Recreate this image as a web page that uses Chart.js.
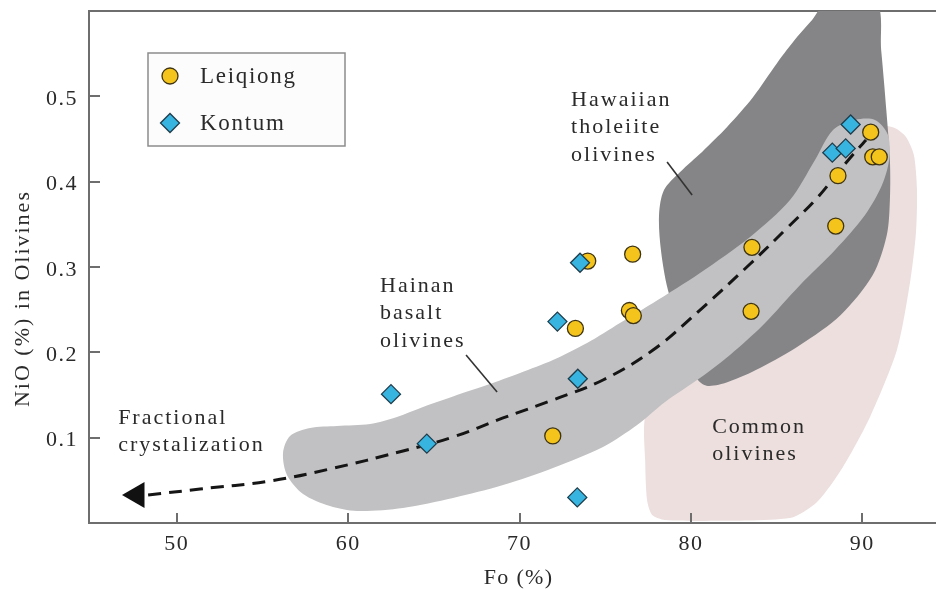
<!DOCTYPE html>
<html>
<head>
<meta charset="utf-8">
<script src="https://cdn.jsdelivr.net/npm/chart.js@4/dist/chart.umd.min.js"></script>
<style>
  html, body { margin: 0; padding: 0; background: #ffffff; }
  #c { display: block; }
</style>
</head>
<body>
<canvas id="c" width="936" height="590" style="width:936px;height:590px"></canvas>
<script>
// ---- data -------------------------------------------------------------
const xTicks = [50, 60, 70, 80, 90];
const yTicks = [0.1, 0.2, 0.3, 0.4, 0.5];

const leiqiongFo  = [73.98, 76.60, 76.41, 76.64, 73.26, 71.94, 90.49, 90.61, 90.99, 88.58, 88.45, 83.56, 83.51];
const leiqiongNiO = [0.307, 0.315, 0.249, 0.243, 0.228, 0.102, 0.458, 0.429, 0.429, 0.407, 0.348, 0.323, 0.248];

const kontumFo  = [73.53, 72.21, 73.40, 62.50, 64.59, 73.37, 89.32, 88.25, 89.03];
const kontumNiO = [0.305, 0.236, 0.169, 0.151, 0.093, 0.030, 0.467, 0.434, 0.439];

// fractional crystallization trend (dashed) and its arrow head
const trendFo  = [48.33, 51.36, 55.44, 58.94, 63.20, 66.12, 69.04, 71.95, 74.87, 77.79, 80.53, 83.45, 85.61, 87.36, 88.70, 89.69, 90.22];
const trendNiO = [0.0328, 0.0398, 0.0492, 0.0633, 0.0844, 0.1008, 0.1231, 0.1442, 0.1676, 0.2027, 0.2496, 0.3035, 0.3457, 0.3809, 0.4137, 0.4371, 0.4488];
const arrowFo  = [47.68];
const arrowNiO = [0.0328];

// compositional fields (closed outlines)
const hainanFo  = [66.35, 68.10, 70.03, 71.95, 73.94, 75.86, 77.79, 80.53, 83.45, 85.78, 87.24, 88.29, 89.57, 90.74, 91.50, 91.56, 91.15, 90.16, 88.41, 86.37, 84.21, 82.28, 80.53, 78.49, 76.86, 74.87, 71.95, 69.04, 66.12, 63.20, 60.52, 58.94, 57.37, 56.43, 56.20, 56.61, 57.78, 59.35, 61.28, 62.85, 64.37, 66.35];
const hainanNiO = [0.1500, 0.1617, 0.1758, 0.1910, 0.2109, 0.2344, 0.2578, 0.2930, 0.3352, 0.3785, 0.4254, 0.4606, 0.4723, 0.4723, 0.4547, 0.4254, 0.3961, 0.3610, 0.3199, 0.2789, 0.2320, 0.1969, 0.1699, 0.1418, 0.1148, 0.0891, 0.0645, 0.0445, 0.0293, 0.0176, 0.0141, 0.0199, 0.0340, 0.0563, 0.0820, 0.1020, 0.1113, 0.1137, 0.1160, 0.1242, 0.1359, 0.1500];

const hawaiiFo  = [80.65, 82.11, 83.63, 85.03, 86.19, 87.07, 87.92, 90.80, 91.10, 91.40, 91.61, 91.61, 91.43, 90.61, 88.74, 86.37, 84.03, 82.16, 80.99, 80.41, 79.94, 78.66, 78.25, 78.14, 78.43, 79.37, 80.65];
const hawaiiNiO = [0.4348, 0.4641, 0.4993, 0.5391, 0.5695, 0.5895, 0.610, 0.610, 0.5544, 0.4841, 0.4254, 0.3785, 0.3375, 0.2906, 0.2438, 0.2086, 0.1816, 0.1652, 0.1606, 0.1676, 0.1910, 0.2731, 0.3199, 0.3610, 0.3902, 0.4113, 0.4348];

const commonFo  = [80.53, 85.78, 87.36, 88.87, 90.45, 92.02, 92.78, 93.13, 93.19, 93.01, 92.55, 91.90, 91.15, 89.87, 84.54, 80.53, 78.20, 77.33, 77.33, 77.44, 77.74, 78.49, 80.53];
const commonNiO = [0.0023, 0.0059, 0.0246, 0.0656, 0.1242, 0.2027, 0.2813, 0.3399, 0.3902, 0.4313, 0.4524, 0.4629, 0.4653, 0.4488, 0.2613, 0.1910, 0.1442, 0.1242, 0.0738, 0.0270, 0.0094, 0.0035, 0.0023];

// leader lines from field names to fields
const hawaiiLeaderFo  = [78.61, 80.07];
const hawaiiLeaderNiO = [0.4231, 0.3844];
const hainanLeaderFo  = [66.88, 68.69];
const hainanLeaderNiO = [0.1969, 0.1535];

// field names, anchored at their first line's left/middle
const fieldNames = [
  { lines: ['Hawaiian', 'tholeiite', 'olivines'], fo: 73.01, nio: 0.4958 },
  { lines: ['Hainan', 'basalt', 'olivines'],      fo: 61.86, nio: 0.2777 },
  { lines: ['Fractional', 'crystalization'],      fo: 46.58, nio: 0.1230 },
  { lines: ['Common', 'olivines'],                fo: 81.24, nio: 0.1125 }
];

// ---- helpers ------------------------------------------------------------
const pts = (xs, ys) => xs.map((v, i) => ({ x: v, y: ys[i] }));
const SERIF = '"Liberation Serif", "Times New Roman", serif';
const TEXT = '#2a2a2a';
const AXIS = '#6e6e6e';
const X_MIN = 44.88, X_MAX = 94.30;

// fix an axis box size and drop the label overhang padding
const fixedSize = (prop, v) => (scale) => {
  scale[prop] = v;
  scale.paddingTop = 0; scale.paddingBottom = 0;
  scale.paddingLeft = 0; scale.paddingRight = 0;
};

// ---- decorations: inward ticks, titles, field names, legend ------------
const decor = {
  id: 'decor',
  beforeUpdate(chart) { chart.ctx.letterSpacing = '1.5px'; },
  beforeDraw(chart) { chart.ctx.letterSpacing = '1.5px'; },
  afterDraw(chart) {
    const { ctx, scales: { x, y }, chartArea: a } = chart;
    ctx.save();

    // tick marks pointing into the plot
    ctx.strokeStyle = AXIS;
    ctx.lineWidth = 2;
    ctx.beginPath();
    xTicks.forEach(v => {
      const px = Math.round(x.getPixelForValue(v));
      ctx.moveTo(px, a.bottom);
      ctx.lineTo(px, a.bottom - 10);
    });
    yTicks.forEach(v => {
      const py = Math.round(y.getPixelForValue(v));
      ctx.moveTo(a.left, py);
      ctx.lineTo(a.left + 11, py);
    });
    ctx.stroke();

    ctx.fillStyle = TEXT;
    ctx.textBaseline = 'middle';

    // axis titles
    ctx.font = '22px ' + SERIF;
    ctx.letterSpacing = '1.3px';
    ctx.textAlign = 'center';
    ctx.fillText('Fo (%)', (a.left + a.right) / 2 + 6, 578);

    ctx.save();
    ctx.letterSpacing = '2px';
    ctx.translate(23, y.getPixelForValue(0.263));
    ctx.rotate(-Math.PI / 2);
    ctx.fillText('NiO (%) in Olivines', 0, 0);
    ctx.restore();

    // field names
    ctx.textAlign = 'left';
    ctx.letterSpacing = '2px';
    ctx.font = '22px ' + SERIF;
    fieldNames.forEach(f => {
      const px = x.getPixelForValue(f.fo);
      const py = y.getPixelForValue(f.nio);
      f.lines.forEach((t, i) => ctx.fillText(t, px, py + i * 27.5));
    });

    // legend box
    const box = { l: 148, t: 53, r: 345, b: 146 };
    ctx.fillStyle = '#fcfcfc';
    ctx.fillRect(box.l, box.t, box.r - box.l, box.b - box.t);
    ctx.strokeStyle = '#8c8c8c';
    ctx.lineWidth = 1.5;
    ctx.strokeRect(box.l, box.t, box.r - box.l, box.b - box.t);

    const entries = [chart.data.datasets[1], chart.data.datasets[0]];
    const rowY = [76, 123];
    ctx.font = '23px ' + SERIF;
    ctx.letterSpacing = '1.7px';
    entries.forEach((ds, i) => {
      ctx.fillStyle = ds.backgroundColor;
      ctx.strokeStyle = ds.borderColor;
      ctx.lineWidth = ds.borderWidth;
      Chart.helpers.drawPoint(ctx, {
        pointStyle: ds.pointStyle, radius: ds.pointRadius, rotation: 0, borderWidth: ds.borderWidth
      }, 170, rowY[i]);
      ctx.fillStyle = TEXT;
      ctx.fillText(ds.label, 200, rowY[i] + 1);
    });

    ctx.restore();
  }
};

// ---- chart ----------------------------------------------------------------
new Chart(document.getElementById('c'), {
  type: 'line',
  data: {
    datasets: [
      {
        label: 'Kontum', data: pts(kontumFo, kontumNiO), showLine: false,
        pointStyle: 'rectRot', pointRadius: 9.5, pointHoverRadius: 9.5,
        backgroundColor: '#38b4e0', borderColor: '#1e3d4c', borderWidth: 1.3
      },
      {
        label: 'Leiqiong', data: pts(leiqiongFo, leiqiongNiO), showLine: false,
        pointStyle: 'circle', pointRadius: 8, pointHoverRadius: 8,
        backgroundColor: '#f4c41c', borderColor: '#3e3413', borderWidth: 1.3
      },
      {
        label: 'arrow', data: pts(arrowFo, arrowNiO), showLine: false,
        pointStyle: 'triangle', rotation: -90, pointRadius: 15, pointHoverRadius: 15,
        backgroundColor: '#111111', borderColor: '#111111', borderWidth: 0
      },
      {
        label: 'trend', data: pts(trendFo, trendNiO),
        borderColor: '#151515', borderWidth: 3, borderDash: [13, 8],
        pointRadius: 0, tension: 0.4, fill: false
      },
      {
        label: 'leaderHawaii', data: pts(hawaiiLeaderFo, hawaiiLeaderNiO),
        borderColor: '#333333', borderWidth: 1.6, pointRadius: 0, fill: false
      },
      {
        label: 'leaderHainan', data: pts(hainanLeaderFo, hainanLeaderNiO),
        borderColor: '#333333', borderWidth: 1.6, pointRadius: 0, fill: false
      },
      {
        label: 'Hainan basalt olivines', data: pts(hainanFo, hainanNiO),
        borderWidth: 0, borderColor: 'rgba(0,0,0,0)', backgroundColor: '#c1c0c2',
        pointRadius: 0, tension: 0.3, fill: 'shape'
      },
      {
        label: 'Hawaiian tholeiite olivines', data: pts(hawaiiFo, hawaiiNiO),
        borderWidth: 0, borderColor: 'rgba(0,0,0,0)', backgroundColor: '#858486',
        pointRadius: 0, tension: 0.3, fill: 'shape'
      },
      {
        label: 'Common olivines', data: pts(commonFo, commonNiO),
        borderWidth: 0, borderColor: 'rgba(0,0,0,0)', backgroundColor: '#ecdfde',
        pointRadius: 0, tension: 0.25, fill: 'shape'
      }
    ]
  },
  options: {
    responsive: false,
    devicePixelRatio: 1,
    animation: false,
    events: [],
    layout: { padding: 0, autoPadding: false },
    plugins: { legend: { display: false }, tooltip: { enabled: false } },
    scales: {
      x: {
        type: 'linear', position: 'bottom', min: X_MIN, max: X_MAX,
        afterBuildTicks: s => { s.ticks = xTicks.map(v => ({ value: v })); },
        afterFit: fixedSize('height', 67),
        grid: { display: false, drawTicks: false },
        border: { display: true, color: AXIS, width: 2 },
        ticks: { padding: 8, color: TEXT, font: { family: SERIF, size: 22 }, callback: v => String(v) }
      },
      xTop: {
        type: 'linear', position: 'top', min: X_MIN, max: X_MAX,
        afterFit: fixedSize('height', 11),
        grid: { display: false, drawTicks: false },
        border: { display: true, color: AXIS, width: 2 },
        ticks: { display: false }
      },
      y: {
        type: 'linear', position: 'left', min: 0, max: 0.6,
        afterBuildTicks: s => { s.ticks = yTicks.map(v => ({ value: v })); },
        afterFit: fixedSize('width', 89),
        grid: { display: false, drawTicks: false },
        border: { display: true, color: AXIS, width: 2 },
        ticks: { padding: 11, labelOffset: 3, color: TEXT, font: { family: SERIF, size: 22 }, callback: v => v.toFixed(1) }
      }
    }
  },
  plugins: [decor]
});
</script>
</body>
</html>
